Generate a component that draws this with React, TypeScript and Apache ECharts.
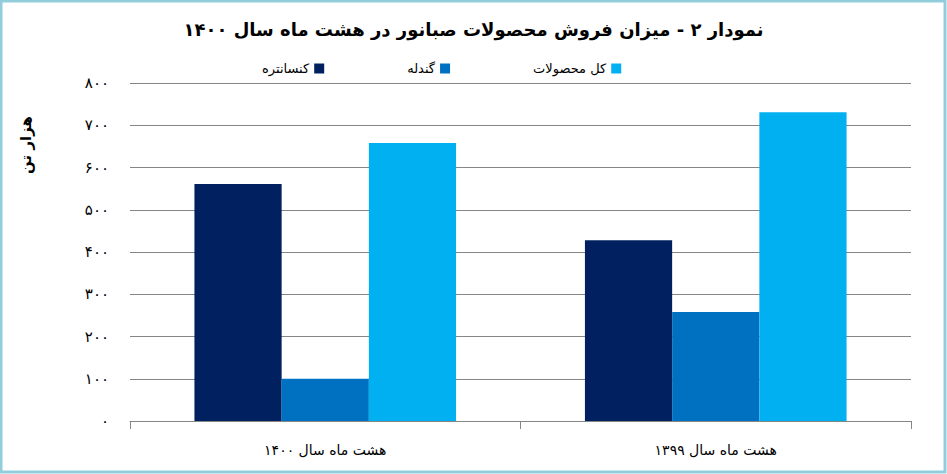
import { useEffect, useRef } from 'react';
import * as echarts from 'echarts';

const titleText = 'نمودار ۲ - میزان فروش محصولات صبانور در هشت ماه سال ۱۴۰۰';
const yAxisName = 'هزار تن';
const categories = ['هشت ماه سال ۱۴۰۰', 'هشت ماه سال ۱۳۹۹'];
const seriesNames = ['کنسانتره', 'گندله', 'کل محصولات'];
const concentrate = [561, 428];
const pellet = [100, 258];
const allProducts = [658, 731];
const seriesColors = ['#002060', '#0070C0', '#00B0F0'];
const persianDigits = ['۰', '۱', '۲', '۳', '۴', '۵', '۶', '۷', '۸', '۹'];

const toPersian = (v: number) =>
  String(v)
    .split('')
    .map((ch) => persianDigits[Number(ch)] ?? ch)
    .join('');

const FONT = '"DejaVu Sans", sans-serif';

export default function App() {
  const chartRef = useRef<HTMLDivElement | null>(null);

  useEffect(() => {
    if (!chartRef.current) {
      return;
    }
    const chart = echarts.init(chartRef.current, undefined, { renderer: 'svg' });
    const values = [concentrate, pellet, allProducts];
    chart.setOption({
      animation: false,
      backgroundColor: '#ffffff',
      textStyle: { fontFamily: FONT },
      title: {
        text: titleText,
        left: 'center',
        top: 15,
        textStyle: { fontFamily: FONT, fontSize: 18, fontWeight: 'bold', color: '#000000' },
      },
      legend: {
        top: 57,
        left: 257,
        itemGap: 83,
        itemWidth: 10,
        itemHeight: 10,
        align: 'right',
        icon: 'rect',
        textStyle: { fontFamily: FONT, fontSize: 13, color: '#000000' },
        data: seriesNames,
      },
      grid: { left: 130, right: 36, top: 83, bottom: 53 },
      xAxis: {
        type: 'category',
        data: categories,
        axisLine: { lineStyle: { color: '#868686', width: 1 } },
        axisTick: { show: true, length: 8, lineStyle: { color: '#868686' } },
        axisLabel: { fontFamily: FONT, fontSize: 14, color: '#000000', margin: 22 },
      },
      yAxis: {
        type: 'value',
        min: 0,
        max: 800,
        interval: 100,
        axisLine: { show: false },
        axisTick: { show: false },
        splitLine: { lineStyle: { color: '#868686', width: 1 } },
        axisLabel: {
          fontFamily: FONT,
          fontSize: 15,
          color: '#000000',
          margin: 21,
          formatter: (v: number) => toPersian(v),
        },
      },
      graphic: [
        {
          type: 'rect',
          shape: { x: 1, y: 1, width: 944, height: 471 },
          style: { fill: 'none', stroke: '#92CDDC', lineWidth: 3 },
          silent: true,
        },
        {
          type: 'text',
          x: 26,
          y: 145,
          rotation: Math.PI / 2,
          style: {
            text: yAxisName,
            fontFamily: FONT,
            fontSize: 15,
            fontWeight: 'bold',
            fill: '#000000',
            align: 'center',
            verticalAlign: 'middle',
          },
        },
      ],
      series: seriesNames.map((name, i) => ({
        name,
        type: 'bar',
        data: values[i],
        barGap: '0%',
        barCategoryGap: '33%',
        itemStyle: { color: seriesColors[i] },
      })),
    });
    return () => chart.dispose();
  }, []);

  return <div ref={chartRef} style={{ position: 'fixed', left: 0, top: 0, width: 947, height: 474 }} />;
}
